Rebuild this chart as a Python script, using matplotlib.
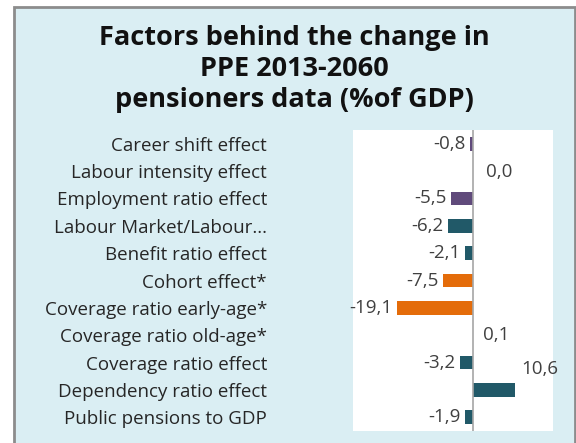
import numpy as np
import matplotlib.pyplot as plt
from matplotlib.patches import Rectangle

categories = [
    "Career shift effect",
    "Labour intensity effect",
    "Employment ratio effect",
    "Labour Market/Labour...",
    "Benefit ratio effect",
    "Cohort effect*",
    "Coverage ratio early-age*",
    "Coverage ratio old-age*",
    "Coverage ratio effect",
    "Dependency ratio effect",
    "Public pensions to GDP",
]
values = [-0.8, 0.0, -5.5, -6.2, -2.1, -7.5, -19.1, 0.1, -3.2, 10.6, -1.9]
value_labels = ["-0,8", "0,0", "-5,5", "-6,2", "-2,1", "-7,5", "-19,1",
                "0,1", "-3,2", "10,6", "-1,9"]
groups = ["labour", "labour", "labour", "market", "market", "coverage",
          "coverage", "coverage", "market", "market", "market"]

group_colors = {"labour": "#604A7B", "market": "#215968", "coverage": "#E46C0A"}
panel_bg = "#DAEEF3"
text_col = "#262626"

plt.rcParams['font.family'] = ['Open Sans', 'DejaVu Sans']

fig = plt.figure(figsize=(5.76, 4.43), dpi=100)
fig.patch.set_facecolor("white")

# light blue panel with grey border on left/top
panel = Rectangle((14 / 576, -0.05), 1 - 14 / 576 - 1 / 576, 1.05 - 7 / 443,
                  transform=fig.transFigure, facecolor=panel_bg,
                  edgecolor="#8C8C8C", linewidth=2, zorder=-10)
fig.patches.append(panel)

ax = fig.add_axes([353 / 576, 1 - 431 / 443, 200 / 576, 301 / 443])
ax.set_facecolor("white")

y = np.arange(len(categories))
colors = [group_colors[g] for g in groups]
ax.barh(y, values, height=0.5, color=colors, zorder=2)
ax.axvline(0, color="#A6A6A6", linewidth=1.2, zorder=3)

ax.set_xlim(-30, 20)
ax.set_ylim(len(categories) - 0.5, -0.5)
ax.set_xticks([])
ax.set_yticks(y)
ax.set_yticklabels(categories, fontsize=13.5, color=text_col)
ax.tick_params(axis="y", length=0, pad=62)
for s in ax.spines.values():
    s.set_visible(False)

for i, (v, lab) in enumerate(zip(values, value_labels)):
    if v < 0:
        off, ha = (-3.3, 0), "right"
    elif v >= 10:
        off, ha = (4, 15), "left"
    elif v == 0:
        off, ha = (9.4, -1), "left"
    else:
        off, ha = (7, 0), "left"
    ax.annotate(lab, (v, i), xytext=off, textcoords="offset points",
                ha=ha, va="center", fontsize=13.5, color="#404040")

fig.text(294 / 576, 1 - 69 / 443,
         "Factors behind the change in\nPPE 2013-2060\npensioners data (%of GDP)",
         ha="center", va="center", fontsize=19.5, fontweight="bold",
         color="#111111", linespacing=1.24)

fig.savefig("out.png", dpi=100, facecolor=fig.get_facecolor())
